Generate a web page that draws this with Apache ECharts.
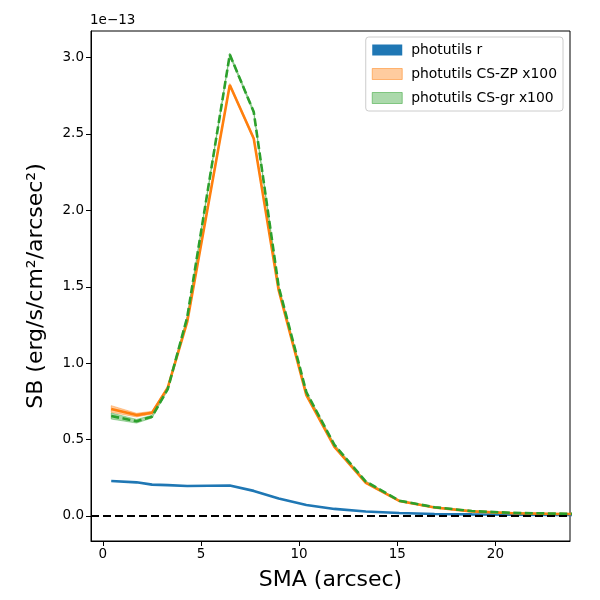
<!DOCTYPE html>
<html>
<head>
<meta charset="utf-8">
<script src="https://cdn.jsdelivr.net/npm/echarts@6/dist/echarts.min.js"></script>
<style>
  html, body { margin: 0; padding: 0; background: #fff; }
  #chart { width: 600px; height: 600px; }
</style>
</head>
<body>
<div id="chart"></div>
<script>
// SMA in arcsec, SB values in units of 1e-13
var sma = [0.43, 1.72, 2.51, 3.31, 4.3, 6.47, 7.69, 8.96, 10.37, 11.8, 13.4, 15.1, 16.9, 18.8, 20.9, 23.2, 25.5];
var sbR = [0.229, 0.22, 0.205, 0.202, 0.196, 0.199, 0.164, 0.114, 0.072, 0.046, 0.029, 0.019, 0.013, 0.010, 0.008, 0.007, 0.006];
var sbZP = [0.70, 0.66, 0.676, 0.84, 1.27, 2.82, 2.47, 1.477, 0.79, 0.452, 0.216, 0.098, 0.055, 0.030, 0.018, 0.013, 0.011];
var errZP = [0.022, 0.012, 0.009, 0.007, 0.008, 0.01, 0.01, 0.008, 0.006, 0.005, 0.004, 0.003, 0.003, 0.002, 0.002, 0.002, 0.002];
var sbGR = [0.654, 0.62, 0.65, 0.83, 1.30, 3.02, 2.644, 1.50, 0.81, 0.465, 0.225, 0.10, 0.057, 0.032, 0.020, 0.015, 0.012];
var errGR = [0.02, 0.012, 0.009, 0.007, 0.008, 0.01, 0.01, 0.008, 0.006, 0.005, 0.004, 0.003, 0.003, 0.002, 0.002, 0.002, 0.002];
var xTicks = [0, 5, 10, 15, 20];
var yTicks = [0, 0.5, 1.0, 1.5, 2.0, 2.5, 3.0];

var font = 'DejaVu Sans';

function pairs(xs, ys) {
    return xs.map(function (x, i) { return [x, ys[i]]; });
}

// fill_between style band, drawn through the axis scales
function band(name, vals, errs, color) {
    return {
        name: name,
        type: 'custom',
        z: 3,
        silent: true,
        data: [[sma[0], vals[0]]],
        renderItem: function (params, api) {
            var pts = [];
            for (var i = 0; i < sma.length; i++) {
                pts.push(api.coord([sma[i], vals[i] + errs[i]]));
            }
            for (var j = sma.length - 1; j >= 0; j--) {
                pts.push(api.coord([sma[j], vals[j] - errs[j]]));
            }
            var cs = params.coordSys;
            return {
                type: 'polygon',
                shape: { points: pts },
                style: { fill: color, stroke: color, lineWidth: 1 },
                clipPath: { type: 'rect', shape: { x: cs.x, y: cs.y, width: cs.width, height: cs.height } }
            };
        }
    };
}

var myChart = echarts.init(document.getElementById('chart'));
var option = {
    animation: false,
    backgroundColor: '#fff',
    textStyle: { fontFamily: font },
    grid: {
        left: 91, right: 30, top: 31, bottom: 59,
        show: true, borderColor: '#000', borderWidth: 1
    },
    graphic: [{
        type: 'text', left: 90, top: 13,
        style: { text: '1e\u221213', fontSize: 13.5, fontFamily: font, fill: '#000' }
    }],
    legend: {
        orient: 'vertical',
        right: 37, top: 37,
        padding: [6, 6, 6, 6],
        itemGap: 10,
        itemWidth: 30,
        itemHeight: 11,
        borderColor: '#ccc', borderWidth: 1, borderRadius: 3,
        backgroundColor: 'rgba(255,255,255,0.8)',
        textStyle: { fontSize: 13.9, fontFamily: font, color: '#000', padding: [0, 0, 0, 4] },
        data: [
            { name: 'photutils r', icon: 'rect', itemStyle: { color: '#1f77b4', borderWidth: 0 } },
            { name: 'photutils CS-ZP x100', icon: 'rect', itemStyle: { color: 'rgba(255,127,14,0.4)', borderColor: 'rgba(255,127,14,0.5)', borderWidth: 1 } },
            { name: 'photutils CS-gr x100', icon: 'rect', itemStyle: { color: 'rgba(44,160,44,0.4)', borderColor: 'rgba(44,160,44,0.5)', borderWidth: 1 } }
        ]
    },
    xAxis: {
        type: 'value',
        min: -0.6, max: 23.8,
        name: 'SMA (arcsec)',
        nameLocation: 'middle',
        nameGap: 28,
        nameTextStyle: { fontSize: 22, fontFamily: font, color: '#000' },
        splitLine: { show: false },
        axisLine: { show: true, onZero: false, lineStyle: { color: '#000' } },
        axisTick: { show: true, length: 5, lineStyle: { color: '#000' }, customValues: xTicks },
        axisLabel: { color: '#000', fontSize: 13.5, margin: 6, customValues: xTicks }
    },
    yAxis: {
        type: 'value',
        min: -0.164, max: 3.174,
        name: 'SB (erg/s/cm\u00b2/arcsec\u00b2)',
        nameLocation: 'middle',
        nameGap: 44,
        nameTextStyle: { fontSize: 22, fontFamily: font, color: '#000' },
        splitLine: { show: false },
        axisLine: { show: true, onZero: false, lineStyle: { color: '#000' } },
        axisTick: { show: true, length: 5, lineStyle: { color: '#000' }, customValues: yTicks },
        axisLabel: {
            color: '#000', fontSize: 13.5, margin: 7, customValues: yTicks,
            formatter: function (v) { return v.toFixed(1); }
        }
    },
    series: [
        {
            name: 'photutils r',
            type: 'line',
            z: 2,
            data: pairs(sma, sbR),
            symbol: 'none',
            lineStyle: { color: '#1f77b4', width: 2.6 },
            itemStyle: { color: '#1f77b4' },
            markLine: {
                silent: true,
                symbol: 'none',
                label: { show: false },
                lineStyle: { color: '#000', type: [8, 4], width: 1.8 },
                data: [{ yAxis: 0 }]
            }
        },
        band('photutils CS-ZP x100', sbZP, errZP, 'rgba(255,127,14,0.4)'),
        {
            name: 'photutils CS-ZP x100',
            type: 'line',
            z: 4,
            data: pairs(sma, sbZP),
            symbol: 'none',
            lineStyle: { color: '#ff7f0e', width: 2.6 },
            itemStyle: { color: '#ff7f0e' }
        },
        band('photutils CS-gr x100', sbGR, errGR, 'rgba(44,160,44,0.4)'),
        {
            name: 'photutils CS-gr x100',
            type: 'line',
            z: 6,
            data: pairs(sma, sbGR),
            symbol: 'none',
            lineStyle: { color: '#2ca02c', width: 2.6, type: [8, 3.5] },
            itemStyle: { color: '#2ca02c' }
        }
    ]
};
myChart.setOption(option);
</script>
</body>
</html>
